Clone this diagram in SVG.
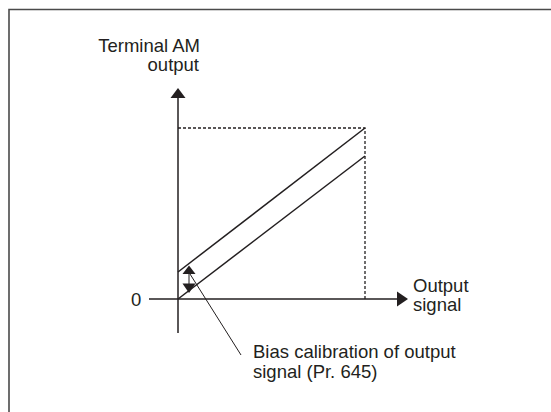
<svg xmlns="http://www.w3.org/2000/svg" width="551" height="412" viewBox="0 0 551 412">
<style>
text{font-family:"Liberation Sans",Arial,sans-serif;fill:#231f20;font-size:18.5px}
.ln{stroke:#231f20;stroke-width:1.5;fill:none}
.dash{stroke:#231f20;stroke-width:1.3;fill:none;stroke-dasharray:3 2}
.thin{stroke:#231f20;stroke-width:1;fill:none}
.head{fill:#231f20}
</style>
<rect width="551" height="412" fill="#fff"/>
<g id="frame">
<path d="M9,412 V9.5 H551" stroke="#4a4a4a" stroke-width="1.6" fill="none"/>
</g>
<g id="connectors">
<line class="ln" x1="178" y1="97" x2="178" y2="333"/>
<polygon class="head" points="178,88 170.5,98 185.5,98"/>
<line class="ln" x1="149" y1="299" x2="398" y2="299"/>
<polygon class="head" points="408,299 397,291.5 397,306.5"/>
<path class="dash" d="M178,128 H365 V299"/>
<line class="ln" x1="178" y1="272" x2="365" y2="128"/>
<line class="ln" x1="178" y1="299" x2="365" y2="156"/>
<line class="thin" x1="189" y1="273" x2="189" y2="284"/>
<polygon class="head" points="189,265.5 182.5,274 195.5,274"/>
<polygon class="head" points="189,293 182.5,283.5 195.5,283.5"/>
<line class="thin" x1="190" y1="274" x2="241" y2="355"/>
</g>
<g id="label-y">
<text x="200" y="51.5" text-anchor="end" font-size="19">Terminal AM</text>
<text x="199" y="71" text-anchor="end" font-size="19">output</text>
</g>
<g id="label-zero">
<text x="131" y="306" font-size="19">0</text>
</g>
<g id="label-x">
<text x="413" y="292" font-size="19.5">Output</text>
<text x="413" y="311" font-size="19.5">signal</text>
</g>
<g id="label-bias">
<text x="253" y="358" font-size="20">Bias calibration of output</text>
<text x="253" y="377.5" font-size="20">signal (Pr. 645)</text>
</g>
</svg>
